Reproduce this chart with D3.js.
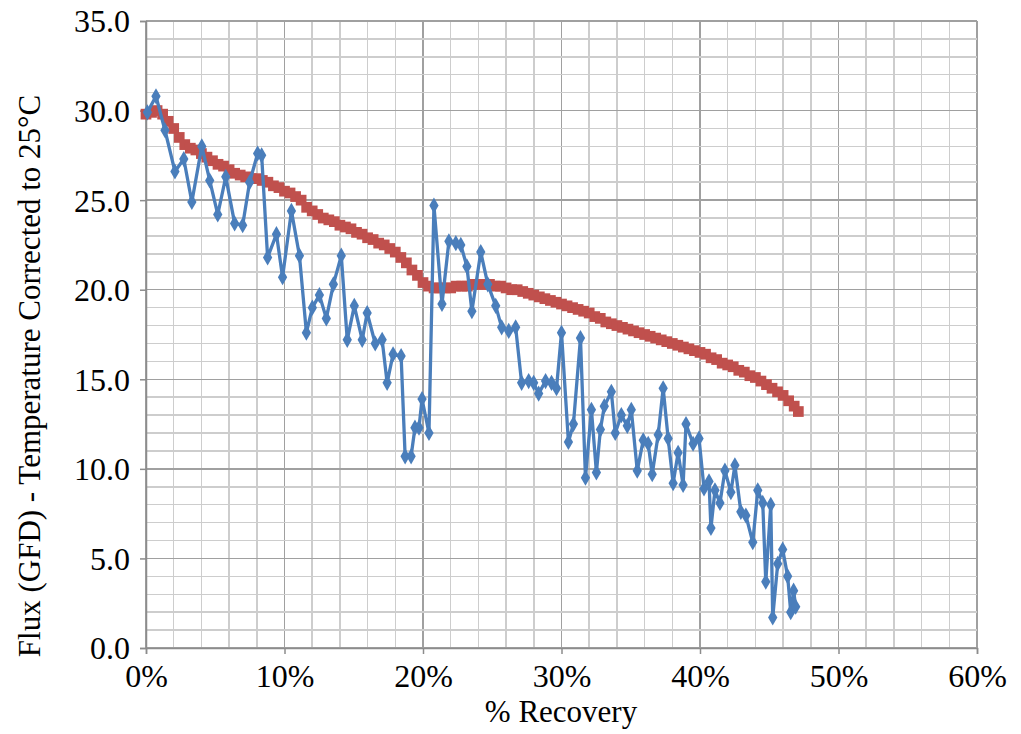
<!DOCTYPE html>
<html>
<head>
<meta charset="utf-8">
<script src="https://cdn.jsdelivr.net/npm/d3@7"></script>
<style>
  html, body { margin: 0; padding: 0; background: #fff; }
  svg { display: block; }
  text { font-family: "Liberation Serif", "DejaVu Serif", serif; fill: #000; }
</style>
</head>
<body>
<svg id="chart" width="1021" height="734"></svg>
<script>
// ---- data ----
const xTicks = [0, 10, 20, 30, 40, 50, 60];          // % Recovery
const yTicks = [0, 5, 10, 15, 20, 25, 30, 35];       // Flux (GFD)

// measured flux (blue, diamonds): [recovery %, flux]
const measuredX = [0.1,0.72,1.37,2.09,2.73,3.31,4.03,4.6,5.18,5.76,6.4,6.98,7.48,8.06,8.35,8.78,9.42,9.86,10.5,11.08,
  11.58,12.01,12.52,13.02,13.53,14.1,14.53,15.04,15.61,15.97,16.55,17.05,17.41,17.84,18.42,18.71,19.14,19.42,19.71,19.93,
  20.43,20.79,21.37,21.87,22.37,22.73,23.17,23.53,24.17,24.68,25.25,25.68,26.19,26.69,27.12,27.63,27.99,28.35,28.85,29.28,
  29.64,30.0,30.5,30.86,31.37,31.73,32.16,32.52,32.81,33.09,33.6,33.88,34.32,34.75,35.04,35.47,35.9,36.26,36.55,36.98,
  37.34,37.7,38.06,38.42,38.78,38.99,39.5,39.93,40.29,40.65,40.79,41.08,41.44,41.8,42.23,42.52,42.95,43.31,43.81,44.17,
  44.53,44.75,45.11,45.25,45.61,45.97,46.33,46.55,46.76,46.91];
const measuredY = [29.9,30.8,28.9,26.6,27.3,24.9,28.0,26.1,24.2,26.3,23.7,23.6,26.0,27.6,27.5,21.8,23.1,20.7,24.4,21.9,
  17.6,19.0,19.7,18.4,20.3,21.9,17.2,19.1,17.2,18.7,17.0,17.2,14.8,16.4,16.3,10.7,10.7,12.3,12.3,13.9,
  12.0,24.7,19.2,22.7,22.6,22.5,21.3,18.8,22.1,20.3,19.1,17.9,17.7,17.9,14.8,14.9,14.8,14.2,14.9,14.8,
  14.5,17.6,11.5,12.5,17.3,9.5,13.3,9.8,12.2,13.5,14.3,12.0,13.0,12.4,13.3,9.9,11.6,11.4,9.7,11.9,
  14.5,11.7,9.2,10.9,9.1,12.5,11.4,11.7,8.9,9.3,6.7,8.8,8.1,9.9,8.7,10.2,7.6,7.4,5.9,8.8,
  8.1,3.7,8.0,1.7,4.7,5.5,4.0,2.0,3.2,2.3];

// temperature-corrected trend (red, squares): [recovery %, flux]
const trendX = [0,0.4,0.8,1.2,1.6,2,2.4,2.8,3.2,3.6,4,4.4,4.8,5.2,5.6,6,6.4,6.8,7.2,7.6,8,8.4,8.8,9.2,9.6,10,
  10.4,10.8,11.2,11.6,12,12.4,12.8,13.2,13.6,14,14.4,14.8,15.2,15.6,16,16.4,16.8,17.2,17.6,18,18.4,18.8,19.2,19.6,20,
  20.4,20.8,21.2,21.6,22,22.4,22.8,23.2,23.6,24,24.4,24.8,25.2,25.6,26,26.4,26.8,27.2,27.6,28,28.4,28.8,29.2,29.6,30,
  30.4,30.8,31.2,31.6,32,32.4,32.8,33.2,33.6,34,34.4,34.8,35.2,35.6,36,36.4,36.8,37.2,37.6,38,38.4,38.8,39.2,39.6,40,
  40.4,40.8,41.2,41.6,42,42.4,42.8,43.2,43.6,44,44.4,44.8,45.2,45.6,46,46.4,46.8,47.1];
const trendY = [29.8,29.9,30.0,29.8,29.4,29.0,28.5,28.1,27.9,27.8,27.6,27.4,27.2,27.0,26.9,26.7,26.5,26.4,26.3,26.2,26.2,26.1,26.0,25.8,25.7,25.5,
  25.4,25.2,25.0,24.6,24.4,24.2,24.0,23.9,23.8,23.6,23.5,23.4,23.2,23.1,22.9,22.8,22.6,22.5,22.3,22.1,21.8,21.5,21.1,20.8,20.4,
  20.2,20.1,20.1,20.1,20.1,20.2,20.2,20.2,20.3,20.3,20.3,20.3,20.2,20.2,20.1,20.0,20.0,19.9,19.8,19.7,19.6,19.5,19.4,19.3,19.2,
  19.1,19.0,18.9,18.8,18.7,18.5,18.4,18.2,18.1,18.0,17.9,17.8,17.7,17.6,17.5,17.4,17.3,17.2,17.1,17.0,16.9,16.8,16.7,16.6,16.5,
  16.4,16.2,16.1,15.9,15.8,15.7,15.5,15.4,15.2,15.1,14.9,14.7,14.5,14.3,14.1,13.8,13.5,13.2];

const xTitle = "% Recovery";
const yTitle = "Flux (GFD) - Temperature Corrected to 25°C";

// ---- layout ----
const svg = d3.select("#chart");
const plotL = 146, plotT = 21, plotR = 977, plotB = 648;

const x = d3.scaleLinear().domain([0, 60]).range([plotL, plotR]);
const y = d3.scaleLinear().domain([0, 35]).range([plotB, plotT]);

const minorX = d3.range(0, 60.001, 2);
const minorY = d3.range(0, 35.001, 1);

const grid = svg.append("g").attr("shape-rendering", "crispEdges");
grid.selectAll("line.mx").data(minorX).enter().append("line")
  .attr("x1", d => x(d)).attr("x2", d => x(d)).attr("y1", plotT).attr("y2", plotB)
  .attr("stroke", d => (d % 10 === 0 ? "#a0a0a0" : "#cdcdcd")).attr("stroke-width", 1.5);
grid.selectAll("line.my").data(minorY).enter().append("line")
  .attr("y1", d => y(d)).attr("y2", d => y(d)).attr("x1", plotL).attr("x2", plotR)
  .attr("stroke", d => (d % 5 === 0 ? "#a0a0a0" : "#cdcdcd")).attr("stroke-width", 1.5);

// axes
const xAxis = d3.axisBottom(x).tickValues(xTicks).tickFormat(d => d + "%").tickSize(6).tickPadding(11);
const yAxis = d3.axisLeft(y).tickValues(yTicks).tickFormat(d3.format(".1f")).tickSize(6).tickPadding(10);

const gx = svg.append("g").attr("transform", `translate(0,${plotB})`).call(xAxis);
const gy = svg.append("g").attr("transform", `translate(${plotL},0)`).call(yAxis);
[gx, gy].forEach(g => {
  g.select(".domain").attr("stroke", "#8c8c8c").attr("stroke-width", 1.5);
  g.selectAll(".tick line").attr("stroke", "#8c8c8c").attr("stroke-width", 1.5);
  g.selectAll(".tick text").style("font-family", '"Liberation Serif", serif').style("font-size", "32px").attr("fill", "#000");
});
gy.selectAll(".tick text").attr("dy", "0.34em");
gx.selectAll(".tick text").attr("dy", "0.68em");

// titles
svg.append("text").attr("x", 561).attr("y", 722).attr("text-anchor", "middle")
  .style("font-size", "31px").text(xTitle);
svg.append("text").attr("transform", "translate(40,376) rotate(-90)").attr("text-anchor", "middle")
  .style("font-size", "31px").text(yTitle);

// series
const trend = trendX.map((d, i) => [d, trendY[i]]);
const measured = measuredX.map((d, i) => [d, measuredY[i]]);
const line = d3.line().x(d => x(d[0])).y(d => y(d[1]));

const red = "#C0504D", blue = "#4A7EBB";
svg.append("path").datum(trend).attr("d", line).attr("fill", "none").attr("stroke", red).attr("stroke-width", 3.5);
svg.append("g").selectAll("path").data(trend).enter().append("path")
  .attr("d", d3.symbol(d3.symbolSquare, 115)())
  .attr("transform", d => `translate(${x(d[0])},${y(d[1])})`).attr("fill", red);

svg.append("path").datum(measured).attr("d", line).attr("fill", "none").attr("stroke", blue)
  .attr("stroke-width", 3.3).attr("stroke-linejoin", "round");
svg.append("g").selectAll("path").data(measured).enter().append("path")
  .attr("d", d3.symbol(d3.symbolDiamond, 75)())
  .attr("transform", d => `translate(${x(d[0])},${y(d[1])})`).attr("fill", blue);
</script>
</body>
</html>
